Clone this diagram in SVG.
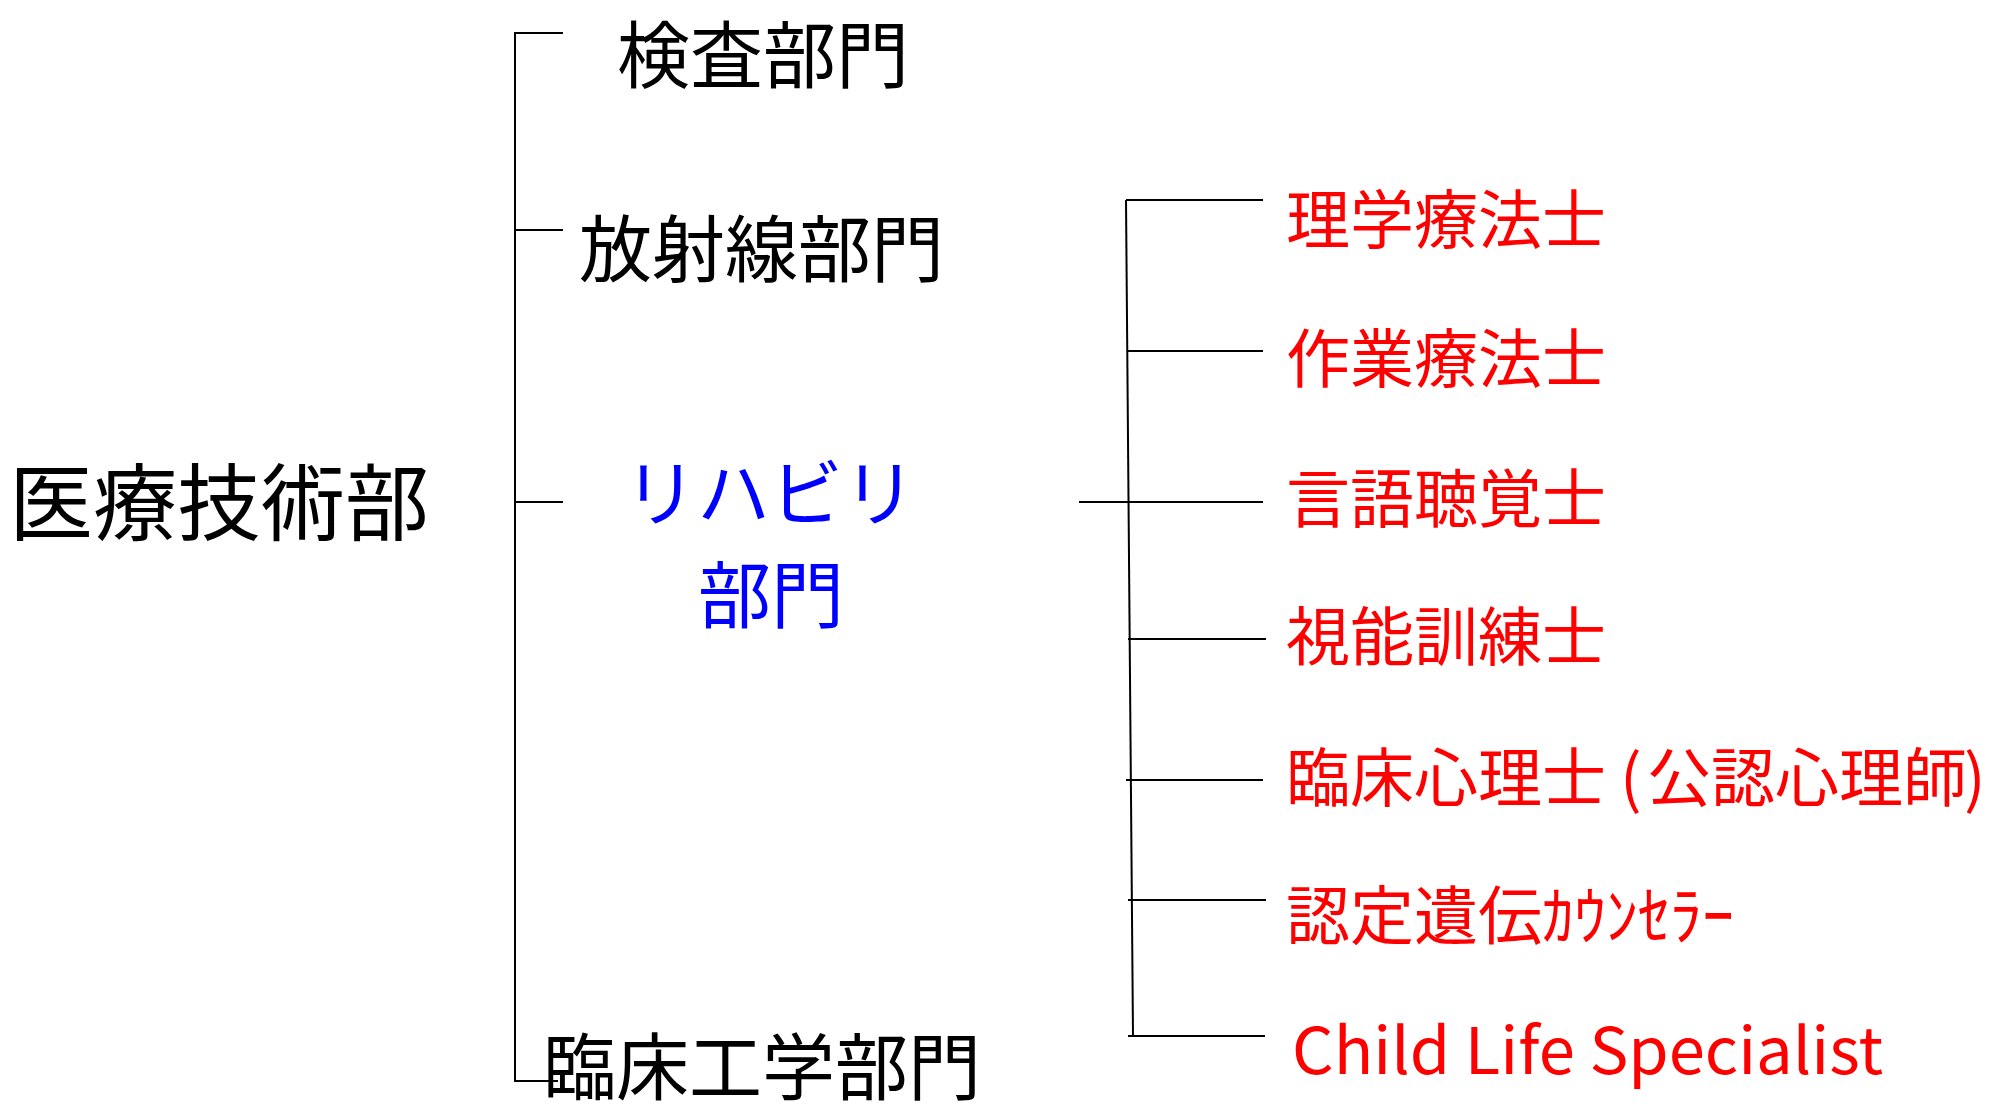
<svg xmlns="http://www.w3.org/2000/svg" width="1991" height="1115" viewBox="0 0 1991 1115">
<style>
.ln{stroke:#000;stroke-width:2;fill:none}
.t{font-family:"Noto Sans CJK JP","Noto Sans",sans-serif}
.blk{fill:#000;font-size:73px}
.blu{fill:#0000FF;font-size:73px}
.red{fill:#FF0000;font-size:64px}
</style>
<rect width="1991" height="1115" fill="#fff"/>
<g id="connectors">
<polyline class="ln" points="563,33 515,33 515,1081 558,1081"/>
<line class="ln" x1="515" y1="230" x2="563" y2="230"/>
<line class="ln" x1="515" y1="502" x2="563" y2="502"/>
<line class="ln" x1="1126" y1="200" x2="1133" y2="1036"/>
<line class="ln" x1="1126" y1="200" x2="1263" y2="200"/>
<line class="ln" x1="1127" y1="351" x2="1263" y2="351"/>
<line class="ln" x1="1079" y1="502" x2="1263" y2="502"/>
<line class="ln" x1="1128" y1="639" x2="1266" y2="639"/>
<line class="ln" x1="1126" y1="780" x2="1263" y2="780"/>
<line class="ln" x1="1128" y1="900" x2="1266" y2="900"/>
<line class="ln" x1="1128" y1="1036" x2="1265" y2="1036"/>
</g>
<g id="root"><text class="t blk" x="9" y="534" style="font-size:84px">医療技術部</text></g>
<g id="kensa"><text class="t blk" x="617" y="82">検査部門</text></g>
<g id="hoshasen"><text class="t blk" x="579" y="276">放射線部門</text></g>
<g id="rehab"><text class="t blu" text-anchor="middle"><tspan x="770" y="520">リハビリ</tspan><tspan x="771" y="622">部門</tspan></text></g>
<g id="rinsho-kogaku"><text class="t blk" x="543" y="1094">臨床工学部門</text></g>
<g id="pt"><text class="t red" x="1286" y="243">理学療法士</text></g>
<g id="ot"><text class="t red" x="1286" y="382">作業療法士</text></g>
<g id="st"><text class="t red" x="1286" y="522">言語聴覚士</text></g>
<g id="orthoptist"><text class="t red" x="1286" y="660">視能訓練士</text></g>
<g id="psych"><text class="t red" y="801"><tspan x="1286">臨床心理士</tspan><tspan x="1620">(</tspan><tspan x="1647">公認心理師</tspan><tspan x="1964">)</tspan></text></g>
<g id="genetic"><text class="t red" x="1286" y="939">認定遺伝ｶｳﾝｾﾗｰ</text></g>
<g id="cls"><text class="t red" x="1292" y="1074" textLength="591" lengthAdjust="spacingAndGlyphs">Child Life Specialist</text></g>
</svg>
